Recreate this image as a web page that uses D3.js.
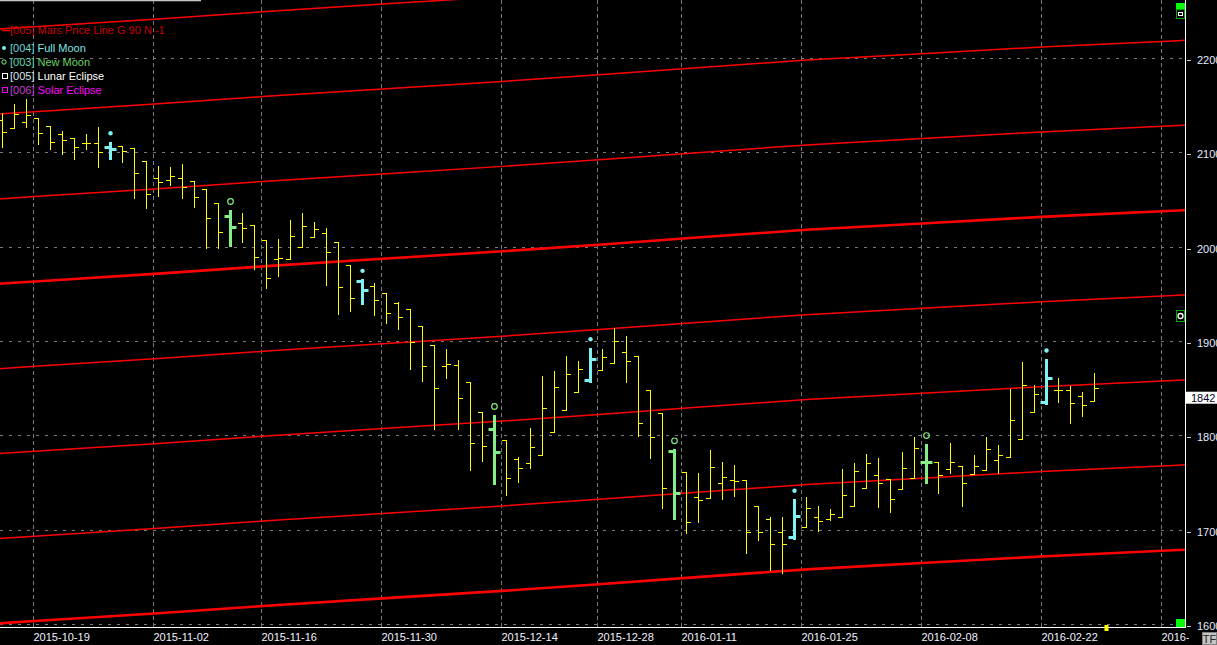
<!DOCTYPE html>
<html><head><meta charset="utf-8">
<script src="https://cdn.jsdelivr.net/npm/d3@7"></script>
<style>html,body{margin:0;padding:0;background:#000;overflow:hidden}svg{display:block}</style>
</head><body><svg id="c" width="1217" height="645"></svg>
<script>
// ---- data ----
const dates = [
 "2015-10-14","2015-10-15","2015-10-16",
 "2015-10-19","2015-10-20","2015-10-21","2015-10-22","2015-10-23","2015-10-26","2015-10-27","2015-10-28","2015-10-29","2015-10-30",
 "2015-11-02","2015-11-03","2015-11-04","2015-11-05","2015-11-06","2015-11-09","2015-11-11","2015-11-12","2015-11-13",
 "2015-11-16","2015-11-17","2015-11-18","2015-11-19","2015-11-20","2015-11-23","2015-11-24","2015-11-25","2015-11-26","2015-11-27",
 "2015-11-30","2015-12-01","2015-12-02","2015-12-03","2015-12-04","2015-12-07","2015-12-08","2015-12-09","2015-12-10","2015-12-11",
 "2015-12-14","2015-12-15","2015-12-16","2015-12-17","2015-12-18","2015-12-21","2015-12-22","2015-12-24",
 "2015-12-28","2015-12-29","2015-12-30","2015-12-31","2016-01-05","2016-01-07","2016-01-08",
 "2016-01-11","2016-01-12","2016-01-13","2016-01-14","2016-01-15","2016-01-18","2016-01-19","2016-01-20","2016-01-21","2016-01-22",
 "2016-01-25","2016-01-26","2016-01-27","2016-01-28","2016-01-29","2016-02-01","2016-02-02","2016-02-03","2016-02-04","2016-02-05",
 "2016-02-08","2016-02-09","2016-02-10","2016-02-11","2016-02-12","2016-02-15","2016-02-16","2016-02-17","2016-02-18","2016-02-19",
 "2016-02-22","2016-02-23","2016-02-24","2016-02-25","2016-02-26"
];
const futureDates = ["2016-02-29","2016-03-01","2016-03-02","2016-03-03","2016-03-04","2016-03-07","2016-03-08"];

const open = [2136.4,2128.0,2134.0,2138.2,2130.0,2121.6,2117.0,2111.7,2111.7,2107.5,2109.2,2106.4,2093.0,
 2074.6,2072.8,2074.6,2071.7,2063.0,2048.1,2034.3,2027.5,2025.1,
 2009.2,1988.7,1988.7,2001.5,2012.1,2016.3,2006.8,1982.4,1965.7,1960.8,
 1952.7,1942.1,1935.7,1918.0,1897.9,1875.3,1876.4,1858.3,1826.5,1808.5,
 1797.2,1776.7,1772.5,1781.3,1805.3,1829.0,1847.7,1860.8,
 1871.1,1878.5,1890.2,1885.9,1849.9,1825.5,1785.8,
 1762.9,1736.4,1735.4,1751.3,1754.5,1754.5,1727.2,1713.4,1699.3,1694.0,
 1704.6,1715.2,1713.4,1715.2,1727.2,1746.0,1759.8,1755.5,1744.9,1757.2,
 1773.5,1773.5,1766.1,1769.6,1760.8,1765.1,1775.7,1778.8,1797.9,1826.5,
 1837.1,1849.9,1849.9,1843.5,1838.2];
const high = [2143.5,2153.0,2158.4,2138.2,2130.0,2124.7,2117.6,2121.3,2128.7,2113.4,2109.2,2106.4,2093.0,
 2087.7,2086.3,2089.8,2071.7,2063.0,2048.1,2041.0,2037.5,2025.1,
 2009.2,2010.3,2030.4,2037.5,2028.0,2021.6,2006.8,1982.4,1967.5,1963.3,
 1952.7,1943.2,1935.7,1918.0,1897.9,1893.6,1882.0,1858.3,1826.5,1823.7,
 1797.2,1778.8,1809.6,1865.0,1870.3,1886.2,1880.9,1895.0,
 1893.6,1916.2,1907.4,1885.9,1849.9,1825.5,1787.3,
 1762.9,1761.9,1786.6,1773.5,1770.7,1754.5,1727.2,1715.2,1715.2,1734.3,
 1736.4,1726.9,1724.0,1766.4,1773.2,1782.3,1777.8,1755.5,1784.4,1800.7,
 1792.9,1774.2,1793.7,1769.6,1781.3,1800.0,1791.9,1851.2,1879.6,1855.2,
 1883.0,1862.6,1854.4,1847.8,1868.2];
const low = [2108.1,2127.6,2128.7,2110.7,2105.7,2100.0,2095.1,2105.7,2086.9,2094.7,2092.2,2053.4,2042.8,
 2055.8,2067.5,2053.4,2044.5,2000.4,2000.7,2003.2,2007.4,1978.1,
 1958.6,1971.0,1988.7,2001.5,2012.1,1961.8,1931.1,1934.3,1941.0,1929.7,
 1921.5,1914.9,1872.4,1859.7,1808.5,1863.2,1808.8,1765.4,1774.9,1750.2,
 1738.9,1753.0,1767.2,1781.3,1805.3,1829.0,1847.7,1859.0,
 1871.1,1878.5,1859.0,1801.4,1777.8,1724.8,1713.4,
 1698.3,1710.6,1735.4,1735.0,1738.1,1677.7,1691.2,1659.4,1656.5,1692.2,
 1704.6,1701.0,1712.4,1715.2,1727.2,1746.0,1726.5,1721.2,1744.9,1757.2,
 1751.3,1740.7,1761.9,1727.5,1760.8,1765.1,1762.5,1778.8,1797.9,1826.5,
 1835.3,1837.8,1815.5,1822.9,1838.2];
const close = [2124.0,2142.8,2141.7,2122.3,2112.8,2115.2,2107.5,2111.7,2102.8,2105.7,2103.5,2080.5,2057.6,
 2071.0,2077.0,2065.7,2054.5,2032.8,2018.0,2022.6,2021.6,1991.5,
 1968.6,1989.8,2013.1,2024.0,2020.5,1996.2,1959.1,1947.4,1956.2,1945.3,
 1931.5,1927.9,1900.7,1876.0,1852.0,1877.4,1841.4,1793.7,1790.8,1784.8,
 1756.6,1767.2,1789.4,1830.8,1853.0,1866.8,1872.1,1882.7,
 1885.5,1901.8,1880.6,1814.9,1800.0,1746.0,1740.7,
 1709.9,1733.6,1768.2,1757.6,1753.4,1700.0,1699.3,1686.6,1686.6,1716.3,
 1724.8,1711.0,1718.4,1738.6,1764.6,1772.5,1751.3,1734.3,1767.2,1788.4,
 1773.5,1759.8,1773.5,1751.3,1769.3,1787.6,1781.0,1818.1,1855.2,1845.6,
 1862.6,1849.9,1836.1,1834.0,1852.0];

const fullMoonDates = ["2015-10-27","2015-11-26","2015-12-24","2016-01-22","2016-02-22"];
const newMoonDates  = ["2015-11-11","2015-12-11","2016-01-08","2016-02-08"];

const tickDates = ["2015-10-19","2015-11-02","2015-11-16","2015-11-30","2015-12-14","2015-12-28","2016-01-11","2016-01-25","2016-02-08","2016-02-22","2016-03-07"];
const priceTicks = [1600,1700,1800,1900,2000,2100,2200];
const lastPrice = 1842;

// Mars price line base level (harmonic 0) read at dates
const marsDates = ["2015-10-14","2015-10-19","2015-11-02","2015-11-16","2015-11-30","2015-12-14","2015-12-28","2016-01-11","2016-01-25","2016-02-08","2016-02-22","2016-03-08"];
const marsLevel = [1963,1965.5,1973.5,1981.5,1989.5,1997.5,2004.5,2011,2020,2027,2034,2040.5];
const marsStep = 90;
const marsHarmonics = [-4,-3,-2,-1,0,1,2,3];

const legendItems = [
 {id:"[005]", name:"Mars Price Line G 90 N -1", sym:"line"},
 {id:"[004]", name:"Full Moon", sym:"dot"},
 {id:"[003]", name:"New Moon", sym:"circle"},
 {id:"[005]", name:"Lunar Eclipse", sym:"square"},
 {id:"[006]", name:"Solar Eclipse", sym:"square"}
];
const legendIdColors = ["#cc0000","#5fd7d7","#5fd7b0","#d8e8e8","#c040d0"];
const legendNameColors = ["#cc0000","#7fe3e3","#66d466","#ffffff","#ff00ff"];
const legendSymColors = ["#ff0000","#7ff0f0","#80ee80","#ffffff","#ff00ff"];

// ---- layout ----
const W=1217,H=645, PR=1185, PB=627;
const svg=d3.select("#c");
svg.append("rect").attr("width",W).attr("height",H).attr("fill","#000");
const FONT="'Liberation Sans', Arial, sans-serif";

const allDates = dates.concat(futureDates);
const x = d3.scalePoint().domain(allDates).range([2.5, 2.5+12*(allDates.length-1)]);
const step = x.step();
const y = d3.scaleLinear().domain([1600,2200]).range([626,60]);

const defs=svg.append("defs");
defs.append("clipPath").attr("id","plot").append("rect").attr("x",0).attr("y",0).attr("width",PR).attr("height",PB);
defs.append("clipPath").attr("id","xlab").append("rect").attr("x",0).attr("y",PB).attr("width",PR+4).attr("height",H-PB);

const plot=svg.append("g").attr("clip-path","url(#plot)");

// grid
plot.append("g").selectAll("line").data(priceTicks).join("line")
 .attr("x1",0).attr("x2",PR).attr("y1",d=>Math.round(y(d))-1.5).attr("y2",d=>Math.round(y(d))-1.5)
 .attr("stroke","#7a7a7a").attr("stroke-width",1).attr("stroke-dasharray","3,6");
plot.append("g").selectAll("line").data(tickDates).join("line")
 .attr("x1",d=>Math.round(x(d)-step/2)+0.5).attr("x2",d=>Math.round(x(d)-step/2)+0.5)
 .attr("y1",0).attr("y2",PB)
 .attr("stroke","#7a7a7a").attr("stroke-width",1).attr("stroke-dasharray","4,3");

// Mars lines
const marsPts = marsDates.map((d,i)=>[x(d), marsLevel[i]]);
const slope0 = (marsPts[1][1]-marsPts[0][1])/(marsPts[1][0]-marsPts[0][0]);
const n=marsPts.length;
const slope1 = (marsPts[n-1][1]-marsPts[n-2][1])/(marsPts[n-1][0]-marsPts[n-2][0]);
const ext = [[0, marsPts[0][1]-slope0*marsPts[0][0]]].concat(marsPts).concat([[PR, marsPts[n-1][1]+slope1*(PR-marsPts[n-1][0])]]);
const mline = d3.line().x(p=>p[0]).y(p=>p[1]);
plot.append("g").selectAll("path").data(marsHarmonics).join("path")
 .attr("d",k=>mline(ext.map(p=>[p[0], y(p[1]+k*marsStep)])))
 .attr("fill","none").attr("stroke","#ff0000")
 .attr("stroke-width",k=>k%4===0?2.6:1.5);

// OHLC bars
const bars = dates.map((d,i)=>({d,o:open[i],h:high[i],l:low[i],c:close[i],
  type: fullMoonDates.includes(d)?"full":(newMoonDates.includes(d)?"new":"norm")}));
const colorOf = t=> t==="full"?"#7ff3f3":(t==="new"?"#86ee86":"#ffff00");
const bg=plot.append("g");
bars.forEach(b=>{
  const cx=x(b.d), col=colorOf(b.type), thick=b.type!=="norm";
  const sw = thick?3:1;
  const tl = thick?6:4.5;
  const ry=v=>Math.round(y(v))+0.5;
  bg.append("line").attr("x1",cx).attr("x2",cx).attr("y1",Math.round(y(b.h))).attr("y2",Math.round(y(b.l))+1)
    .attr("stroke",col).attr("stroke-width",sw);
  bg.append("line").attr("x1",cx-tl).attr("x2",cx).attr("y1",ry(b.o)).attr("y2",ry(b.o))
    .attr("stroke",col).attr("stroke-width",sw);
  bg.append("line").attr("x1",cx).attr("x2",cx+tl).attr("y1",ry(b.c)).attr("y2",ry(b.c))
    .attr("stroke",col).attr("stroke-width",sw);
  if(b.type==="full"){
    bg.append("circle").attr("cx",cx).attr("cy",y(b.h)-8.5).attr("r",2.2).attr("fill",col);
  } else if(b.type==="new"){
    bg.append("circle").attr("cx",cx).attr("cy",y(b.h)-8.5).attr("r",2.8).attr("fill","none").attr("stroke",col).attr("stroke-width",1.2);
  }
});

// axes frame
svg.append("line").attr("x1",0).attr("x2",PR+1).attr("y1",PB+0.5).attr("y2",PB+0.5).attr("stroke","#fff").attr("stroke-width",1);
svg.append("line").attr("x1",PR+0.5).attr("x2",PR+0.5).attr("y1",0).attr("y2",PB+1).attr("stroke","#fff").attr("stroke-width",1);
svg.append("line").attr("x1",0).attr("x2",201).attr("y1",0.5).attr("y2",0.5).attr("stroke","#c8c8c8").attr("stroke-width",1.5);

// x labels
svg.append("g").attr("clip-path","url(#xlab)").selectAll("text").data(tickDates).join("text")
 .attr("x",d=>Math.round(x(d)-step/2)+0.5).attr("y",637).attr("dy","0.35em")
 .attr("font-family",FONT).attr("font-size",11).attr("fill","#f2f2ff").text(d=>d);

// y axis right
const ya=svg.append("g");
ya.selectAll("line").data(priceTicks).join("line")
 .attr("x1",1187).attr("x2",1191).attr("y1",d=>Math.round(y(d))+0.5).attr("y2",d=>Math.round(y(d))+0.5)
 .attr("stroke","#d0d0d0");
ya.selectAll("text").data(priceTicks).join("text")
 .attr("x",1197).attr("y",d=>y(d)).attr("dy","0.35em")
 .attr("font-family",FONT).attr("font-size",11).attr("fill","#e4ecff").text(d=>d);
// last price box
svg.append("rect").attr("x",1186).attr("y",y(lastPrice)-6).attr("width",31).attr("height",12).attr("fill","#fff");
svg.append("text").attr("x",1191).attr("y",y(lastPrice)).attr("dy","0.36em")
 .attr("font-family",FONT).attr("font-size",11).attr("fill","#000020").text(lastPrice);

// small GUI widgets
svg.append("rect").attr("x",1176).attr("y",3).attr("width",9).attr("height",7).attr("fill","#00ff00");
svg.append("rect").attr("x",1176.5).attr("y",9.5).attr("width",8).attr("height",9).attr("fill","#000").attr("stroke","#00aa00");
svg.append("rect").attr("x",1178.5).attr("y",12.5).attr("width",4).attr("height",3).attr("fill","none").attr("stroke","#fff");
svg.append("rect").attr("x",1176.5).attr("y",310.5).attr("width",8).attr("height",11).attr("fill","#000").attr("stroke","#00aa00");
svg.append("circle").attr("cx",1180.5).attr("cy",316).attr("r",2.5).attr("fill","none").attr("stroke","#fff").attr("stroke-width",1.3);
svg.append("rect").attr("x",1176).attr("y",619).attr("width",9).attr("height",8).attr("fill","#00ff00");
svg.append("rect").attr("x",x(futureDates[0])-2).attr("y",625).attr("width",4).attr("height",6).attr("fill","#ffff00");
// TF button
svg.append("rect").attr("x",1202.5).attr("y",632.5).attr("width",14).attr("height",12).attr("fill","#c4c4c4").attr("stroke","#808080");
svg.append("text").attr("x",1209.5).attr("y",639).attr("dy","0.35em").attr("text-anchor","middle")
 .attr("font-family",FONT).attr("font-size",11).attr("fill","#202020").text("TF");

// legend
const lg=svg.append("g");
const rowY=[30.5,48,62,76,90];
legendItems.forEach((it,i)=>{
  const ry=rowY[i];
  if(it.sym==="line") lg.append("line").attr("x1",2).attr("x2",10).attr("y1",ry).attr("y2",ry).attr("stroke",legendSymColors[i]).attr("stroke-width",1.5);
  else if(it.sym==="dot") lg.append("circle").attr("cx",4).attr("cy",ry).attr("r",2).attr("fill",legendSymColors[i]);
  else if(it.sym==="circle") lg.append("circle").attr("cx",4).attr("cy",ry).attr("r",2.2).attr("fill","none").attr("stroke",legendSymColors[i]);
  else lg.append("rect").attr("x",2.5).attr("y",ry-2.5).attr("width",5).attr("height",5).attr("fill","none").attr("stroke",legendSymColors[i]);
  const t=lg.append("text").attr("x",10).attr("y",ry).attr("dy","0.35em").attr("font-family",FONT).attr("font-size",11);
  t.append("tspan").attr("fill",legendIdColors[i]).text(it.id+" ");
  t.append("tspan").attr("fill",legendNameColors[i]).text(it.name);
});
</script></body></html>
